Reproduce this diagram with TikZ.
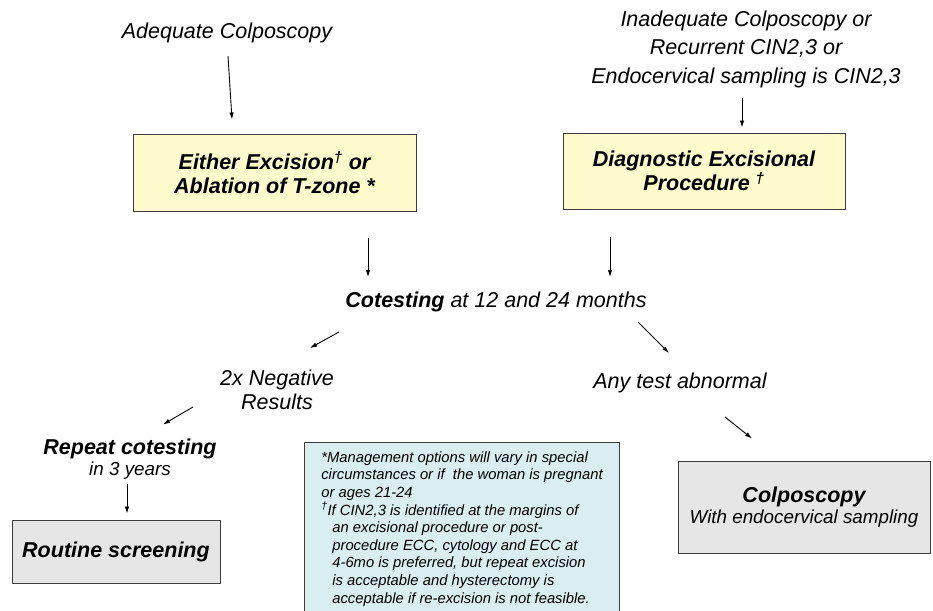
\documentclass[tikz,border=0pt]{standalone}
\usepackage{fontspec}
\setmainfont{Liberation Sans}
\usetikzlibrary{arrows.meta}
\definecolor{boxyellow}{RGB}{255,251,204}
\definecolor{boxgray}{RGB}{230,230,230}
\definecolor{boxblue}{RGB}{218,237,240}
\definecolor{boxline}{RGB}{60,60,60}
\newcommand{\bigtxt}{\fontsize{21.5}{24}\selectfont}
\newcommand{\midtxt}{\fontsize{18.8}{23}\selectfont}
\newcommand{\notetxt}{\fontsize{14.8}{17.6}\selectfont}

\begin{document}
\begin{tikzpicture}[x=1pt, y=-1pt, > = {Latex[length=7pt,width=4.5pt]},
  fbox/.style={draw=boxline, line width=1pt, align=center, inner sep=0pt},
  arr/.style={->, line width=0.9pt}]
\useasboundingbox (0,0) rectangle (933,610);

\node (adequate) [font=\bigtxt\itshape] at (227,33) {Adequate Colposcopy};
\node (inadequate) [align=center, font=\bigtxt\itshape] at (746,49) {Inadequate Colposcopy or\\[4.5pt]
  Recurrent CIN2,3 or\\[4.5pt] Endocervical sampling is CIN2,3};

\node (either) [fbox, fill=boxyellow, minimum width=283, minimum height=77,
  font=\bigtxt\bfseries\itshape] at (274.5,172.5)
  {Either Excision\textsuperscript{\dag} or\\ Ablation of T-zone *};
\node (diag) [fbox, fill=boxyellow, minimum width=282, minimum height=76,
  font=\bigtxt\bfseries\itshape] at (704,171)
  {Diagnostic Excisional\\ Procedure \textsuperscript{\dag}};

\node (cotest) [font=\bigtxt\itshape] at (496,302) {\textbf{Cotesting} at 12 and 24 months};
\node (negative) [align=center, font=\bigtxt\itshape] at (277,390) {2x Negative\\ Results};
\node (abnormal) [font=\bigtxt\itshape] at (680,383) {Any test abnormal};

\node (repeat) [align=center, font=\itshape] at (130,459)
  {{\bigtxt\bfseries Repeat cotesting}\\[2pt] {\midtxt in 3 years}};
\node (routine) [fbox, fill=boxgray, minimum width=208, minimum height=63,
  font=\bigtxt\bfseries\itshape] at (116,551.5) {Routine screening};
\node (colpo) [fbox, fill=boxgray, minimum width=252, minimum height=92, font=\itshape] at (804,507)
  {{\bigtxt\bfseries Colposcopy}\\[2pt] {\midtxt With endocervical sampling}};

% footnote box
\node (note) [draw=boxline, line width=1pt, fill=boxblue, anchor=north west, align=left,
  minimum width=315, inner xsep=0pt, inner ysep=9pt, font=\notetxt\itshape] at (304,442)
  {*Management options will vary in special\\
  circumstances or if\ \ the woman is pregnant\\
  or ages 21-24\\
  \textsuperscript{\dag}If CIN2,3 is identified at the margins of\\
  \hspace*{11pt}an excisional procedure or post-\\
  \hspace*{11pt}procedure ECC, cytology and ECC at\\
  \hspace*{11pt}4-6mo is preferred, but repeat excision\\
  \hspace*{11pt}is acceptable and hysterectomy is\\
  \hspace*{11pt}acceptable if re-excision is not feasible.};

\draw[arr] ([xshift=1pt,yshift=-23pt]adequate.center) -- ([xshift=-42.5pt,yshift=14pt]either.north);
\draw[arr] ([xshift=-4pt,yshift=-49pt]inadequate.center) -- ([xshift=38pt,yshift=5pt]diag.north);
\draw[arr] ([xshift=93.5pt,yshift=-26pt]either.south) -- ([xshift=-128pt,yshift=25pt]cotest.center);
\draw[arr] ([xshift=-94pt,yshift=-27pt]diag.south) -- ([xshift=114pt,yshift=25pt]cotest.center);
\draw[arr] ([xshift=-157pt,yshift=-30pt]cotest.center) -- ([xshift=33pt,yshift=42pt]negative.center);
\draw[arr] ([xshift=142pt,yshift=-20pt]cotest.center) -- ([xshift=-11pt,yshift=30pt]abnormal.center);
\draw[arr] ([xshift=-84pt,yshift=-17pt]negative.center) -- ([xshift=33pt,yshift=34.5pt]repeat.center);
\draw[arr] ([xshift=-3pt,yshift=-24.5pt]repeat.center) -- ([xshift=11pt,yshift=6pt]routine.north);
\draw[arr] ([xshift=45pt,yshift=-34pt]abnormal.center) -- ([xshift=-52pt,yshift=22pt]colpo.north);
\end{tikzpicture}
\end{document}
